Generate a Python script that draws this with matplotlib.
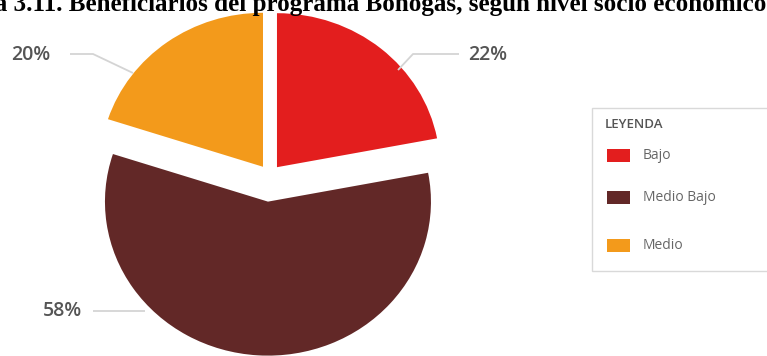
import matplotlib
matplotlib.use("Agg")
import matplotlib.pyplot as plt
from matplotlib.patches import Rectangle

# Datos
categorias = ["Bajo", "Medio Bajo", "Medio"]
porcentajes = [22, 58, 20]
colores = ["#E31E1E", "#622827", "#F39A1B"]
separacion = [0.07, 0.17, 0.07]
titulo = "Gráfica 3.11. Beneficiarios del programa Bonogas, según nivel socio económico"
titulo_leyenda = "LEYENDA"

# Tamaño en pixeles
ancho, alto = 767, 356
rx, ry = 163, 154          # radio horizontal / vertical del pastel
cx, cy = 269.7, 175.5      # centro del pastel (pixeles)

fig = plt.figure(figsize=(ancho / 100, alto / 100), dpi=100)
fig.patch.set_facecolor("white")

# Ejes del pastel (unidades = radio)
ax = fig.add_axes([0, 0, 1, 1])
ax.pie(porcentajes, colors=colores, explode=separacion, startangle=90,
       counterclock=False, radius=1, center=(cx / rx, (alto - cy) / ry),
       wedgeprops=dict(linewidth=0))
ax.set_aspect("auto")
ax.set_xlim(0, ancho / rx)
ax.set_ylim(0, alto / ry)
ax.axis("off")

# Ejes de superposición en pixeles
ov = fig.add_axes([0, 0, 1, 1])
ov.set_xlim(0, ancho)
ov.set_ylim(alto, 0)
ov.axis("off")
ov.patch.set_alpha(0)

# Etiquetas con líneas guía
gris_linea = "#d4d4d4"
etiquetas = [(488, 55), (62, 311), (31, 55)]
lineas = [
    ([459, 413, 398], [54, 54, 70]),
    ([93, 145], [311, 311]),
    ([70, 93, 133], [54, 54, 73]),
]
for p, (tx, ty), (lx, ly) in zip(porcentajes, etiquetas, lineas):
    ov.plot(lx, ly, color=gris_linea, lw=1.3, solid_capstyle="butt")
    ov.text(tx, ty, f"{p}%", ha="center", va="center", fontsize=14,
            fontweight="semibold", family="Open Sans", color="#555555")

# Leyenda
ov.add_patch(Rectangle((592, 108), 250, 163, facecolor="white",
                       edgecolor="#d9d9d9", lw=1, clip_on=False))
ov.text(605, 125, titulo_leyenda, ha="left", va="center", fontsize=9.5,
        fontweight="semibold", family="Open Sans", color="#555555")
filas_y = [155.5, 197.5, 245.5]
for nombre, color, y in zip(categorias, colores, filas_y):
    ov.add_patch(Rectangle((607, y - 6.5), 23, 13, facecolor=color, lw=0))
    ov.text(643, y, nombre, ha="left", va="center", fontsize=10,
            family="Open Sans", color="#666666")

# Título (recortado arriba como en el original)
ov.text(766, 11, titulo, ha="right", va="baseline", fontsize=18.05,
        fontweight="bold", family="Liberation Serif", color="black")

fig.savefig("out.png", dpi=100)
